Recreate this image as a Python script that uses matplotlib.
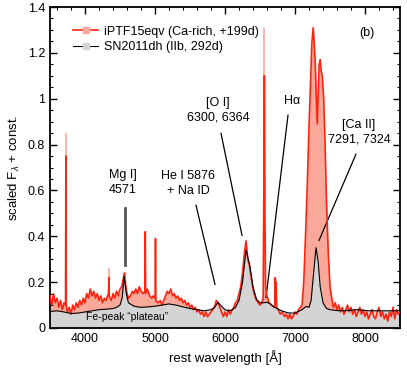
import matplotlib
matplotlib.use("Agg")
import matplotlib.pyplot as plt
from matplotlib.lines import Line2D
from matplotlib.ticker import MultipleLocator

plt.rcParams['font.family'] = ['Liberation Sans', 'DejaVu Sans']
plt.rcParams['mathtext.fontset'] = 'custom'
plt.rcParams['mathtext.rm'] = 'Liberation Sans'
plt.rcParams['mathtext.it'] = 'Liberation Sans:italic'

# iPTF15eqv (Ca-rich, +199d)
ptf_wave = [3500, 3525, 3550, 3575, 3600, 3625, 3650, 3675, 3700, 3722, 3727, 3732,
            3750, 3775, 3800, 3825, 3850, 3875, 3900, 3925, 3950, 3975, 4000, 4025,
            4050, 4075, 4100, 4125, 4150, 4175, 4200, 4225, 4250, 4275, 4300, 4335,
            4340, 4345, 4375, 4400, 4425, 4450, 4475, 4500, 4525, 4550, 4565, 4580,
            4600, 4625, 4650, 4675, 4700, 4725, 4750, 4775, 4800, 4830, 4856, 4861,
            4866, 4890, 4925, 4955, 4975, 5002, 5007, 5012, 5040, 5075, 5100, 5125,
            5150, 5175, 5200, 5225, 5250, 5275, 5300, 5325, 5350, 5375, 5400, 5425,
            5450, 5475, 5500, 5525, 5550, 5575, 5600, 5625, 5650, 5675, 5700, 5725,
            5750, 5775, 5800, 5825, 5850, 5875, 5900, 5925, 5950, 5975, 6000, 6025,
            6050, 6075, 6100, 6125, 6150, 6175, 6200, 6225, 6250, 6275, 6300, 6325,
            6350, 6375, 6400, 6425, 6450, 6475, 6500, 6525, 6545, 6555, 6560, 6565,
            6570, 6580, 6590, 6610, 6630, 6660, 6700, 6712, 6718, 6725, 6731, 6738,
            6760, 6790, 6820, 6850, 6875, 6900, 6925, 6950, 6975, 7000, 7025, 7050,
            7075, 7100, 7125, 7150, 7175, 7200, 7220, 7240, 7260, 7275, 7290, 7305,
            7318, 7330, 7345, 7360, 7375, 7390, 7410, 7430, 7450, 7475, 7500, 7525,
            7550, 7575, 7600, 7625, 7650, 7675, 7700, 7725, 7750, 7775, 7800, 7825,
            7850, 7875, 7900, 7925, 7950, 7975, 8000, 8025, 8050, 8075, 8100, 8125,
            8150, 8175, 8200, 8225, 8250, 8275, 8300, 8325, 8350, 8375, 8400, 8425,
            8450, 8475, 8500]
ptf_flux = [0.14, 0.10, 0.15, 0.11, 0.13, 0.09, 0.12, 0.08, 0.11, 0.10, 0.75, 0.10,
            0.07, 0.09, 0.06, 0.10, 0.08, 0.11, 0.09, 0.12, 0.10, 0.13, 0.11, 0.15,
            0.13, 0.17, 0.14, 0.16, 0.13, 0.15, 0.12, 0.14, 0.11, 0.13, 0.12, 0.15,
            0.22, 0.14, 0.12, 0.15, 0.13, 0.16, 0.14, 0.17, 0.18, 0.22, 0.24, 0.19,
            0.15, 0.13, 0.14, 0.16, 0.15, 0.17, 0.15, 0.18, 0.16, 0.15, 0.16, 0.42,
            0.15, 0.17, 0.14, 0.13, 0.14, 0.13, 0.39, 0.12, 0.11, 0.12, 0.10, 0.12,
            0.14, 0.16, 0.15, 0.17, 0.14, 0.15, 0.13, 0.14, 0.12, 0.13, 0.11, 0.12,
            0.10, 0.11, 0.09, 0.10, 0.08, 0.09, 0.07, 0.08, 0.06, 0.07, 0.05, 0.07,
            0.05, 0.06, 0.07, 0.08, 0.09, 0.12, 0.11, 0.09, 0.07, 0.05, 0.07, 0.05,
            0.08, 0.06, 0.08, 0.09, 0.11, 0.12, 0.15, 0.18, 0.24, 0.32, 0.38, 0.30,
            0.27, 0.22, 0.17, 0.14, 0.12, 0.11, 0.10, 0.11, 0.13, 0.60, 1.10, 1.10,
            0.50, 0.18, 0.15, 0.13, 0.11, 0.10, 0.09, 0.10, 0.22, 0.12, 0.20, 0.09,
            0.08, 0.06, 0.07, 0.05, 0.06, 0.04, 0.06, 0.04, 0.05, 0.07, 0.06, 0.08,
            0.09, 0.10, 0.20, 0.40, 0.62, 0.88, 1.05, 1.24, 1.31, 1.24, 1.15, 1.00,
            0.89, 1.00, 1.15, 1.17, 1.12, 1.10, 1.00, 0.80, 0.55, 0.33, 0.18, 0.13,
            0.09, 0.11, 0.08, 0.10, 0.07, 0.09, 0.06, 0.08, 0.10, 0.07, 0.09, 0.06,
            0.08, 0.05, 0.07, 0.09, 0.06, 0.08, 0.05, 0.07, 0.04, 0.06, 0.08, 0.05,
            0.04, 0.07, 0.09, 0.05, 0.07, 0.04, 0.06, 0.03, 0.07, 0.05, 0.09, 0.04,
            0.08, 0.06, 0.07]

# unbinned tops of the narrow emission lines
spike_wave = [3727, 4340, 6563]
spike_top = [0.85, 0.26, 1.31]

# SN2011dh (IIb, 292d)
dh_wave = [3500, 3600, 3700, 3800, 3900, 4000, 4100, 4200, 4300, 4400, 4450, 4500,
           4530, 4560, 4590, 4620, 4700, 4800, 4900, 5000, 5100, 5200, 5300, 5400,
           5500, 5600, 5700, 5800, 5850, 5900, 5950, 6000, 6050, 6100, 6150, 6200,
           6250, 6300, 6350, 6400, 6450, 6500, 6550, 6600, 6650, 6700, 6800, 6900,
           7000, 7100, 7160, 7200, 7230, 7260, 7300, 7330, 7360, 7400, 7450, 7500,
           7600, 7700, 7800, 7900, 8000, 8100, 8200, 8300, 8400, 8500]
dh_flux = [0.072, 0.075, 0.070, 0.063, 0.065, 0.070, 0.075, 0.080, 0.082, 0.085, 0.090, 0.100,
           0.130, 0.225, 0.150, 0.110, 0.095, 0.090, 0.092, 0.095, 0.100, 0.105, 0.100, 0.092,
           0.085, 0.080, 0.075, 0.080, 0.090, 0.112, 0.095, 0.080, 0.075, 0.078, 0.090, 0.120,
           0.200, 0.340, 0.280, 0.180, 0.125, 0.110, 0.110, 0.112, 0.105, 0.092, 0.076, 0.066,
           0.065, 0.080, 0.094, 0.090, 0.120, 0.220, 0.350, 0.290, 0.180, 0.110, 0.085, 0.080,
           0.076, 0.075, 0.078, 0.080, 0.076, 0.075, 0.075, 0.075, 0.075, 0.075]

red = '#ff2410'
salmon = '#f9a899'
grey = '#d4d4d4'

fig = plt.figure(figsize=(4.07, 3.71), dpi=100)
ax = fig.add_axes([50/407, 43/371, 350/407, 321/371])

ax.fill_between(ptf_wave, 0, ptf_flux, color=salmon, lw=0, zorder=1)
ax.vlines(spike_wave, 0, spike_top, color=salmon, lw=1.2, zorder=1)
ax.fill_between(dh_wave, 0, dh_flux, color=grey, lw=0, zorder=2)
ax.plot(ptf_wave, ptf_flux, color=red, lw=1.2, zorder=3)
ax.plot(dh_wave, dh_flux, color='black', lw=0.8, zorder=4)

ax.set_xlim(3500, 8500)
ax.set_ylim(0, 1.4)
ax.xaxis.set_major_locator(MultipleLocator(1000))
ax.xaxis.set_minor_locator(MultipleLocator(200))
ax.yaxis.set_major_locator(MultipleLocator(0.2))
ax.yaxis.set_minor_locator(MultipleLocator(0.05))
ax.set_yticks([0, 0.2, 0.4, 0.6, 0.8, 1.0, 1.2, 1.4])
ax.set_yticklabels(['0', '0.2', '0.4', '0.6', '0.8', '1', '1.2', '1.4'])
ax.tick_params(which='both', direction='in', top=True, right=True, labelsize=9)
ax.tick_params(which='major', length=5, width=1)
ax.tick_params(which='minor', length=2.5, width=0.8)
for s in ax.spines.values():
    s.set_linewidth(1.3)

ax.set_xlabel('rest wavelength [Å]', fontsize=9.5)
ax.set_ylabel(r'scaled F$_\lambda$ + const.', fontsize=9.5, labelpad=4)

fs = 9
ax.text(4543, 0.635, 'Mg I]\n4571', ha='center', va='center', fontsize=fs, linespacing=1.3)
ax.plot([4571, 4571], [0.522, 0.273], color='#555555', lw=2)
ax.text(5471, 0.629, 'He I 5876\n+ Na ID', ha='center', va='center', fontsize=fs, linespacing=1.3)
ax.plot([5586, 5857], [0.535, 0.190], color='black', lw=0.9)
ax.text(5900, 0.948, '[O I]\n6300, 6364', ha='center', va='center', fontsize=fs, linespacing=1.3)
ax.plot([5943, 6243], [0.849, 0.404], color='black', lw=0.9)
ax.text(6957, 0.989, 'Hα', ha='center', va='center', fontsize=fs)
ax.plot([6900, 6586], [0.928, 0.133], color='black', lw=0.9)
ax.text(7914, 0.852, '[Ca II]\n7291, 7324', ha='center', va='center', fontsize=fs, linespacing=1.3)
ax.plot([7871, 7343], [0.758, 0.382], color='black', lw=0.9)
ax.text(8029, 1.286, '(b)', ha='center', va='center', fontsize=fs)
ax.text(4600, 0.05, 'Fe-peak “plateau”', ha='center', va='center', fontsize=7.5, zorder=5)

handles = [Line2D([], [], color=red, lw=1.2, marker='s', markersize=5,
                  markerfacecolor=salmon, markeredgecolor=salmon),
           Line2D([], [], color='black', lw=0.8, marker='s', markersize=5,
                  markerfacecolor=grey, markeredgecolor=grey)]
ax.legend(handles, ['iPTF15eqv (Ca-rich, +199d)', 'SN2011dh (IIb, 292d)'],
          loc='upper left', bbox_to_anchor=(0.045, 0.965), frameon=False, fontsize=9,
          numpoints=1, handlelength=2.0, handletextpad=0.45, labelspacing=0.3,
          borderaxespad=0.2)

fig.savefig('out.png', dpi=100)
